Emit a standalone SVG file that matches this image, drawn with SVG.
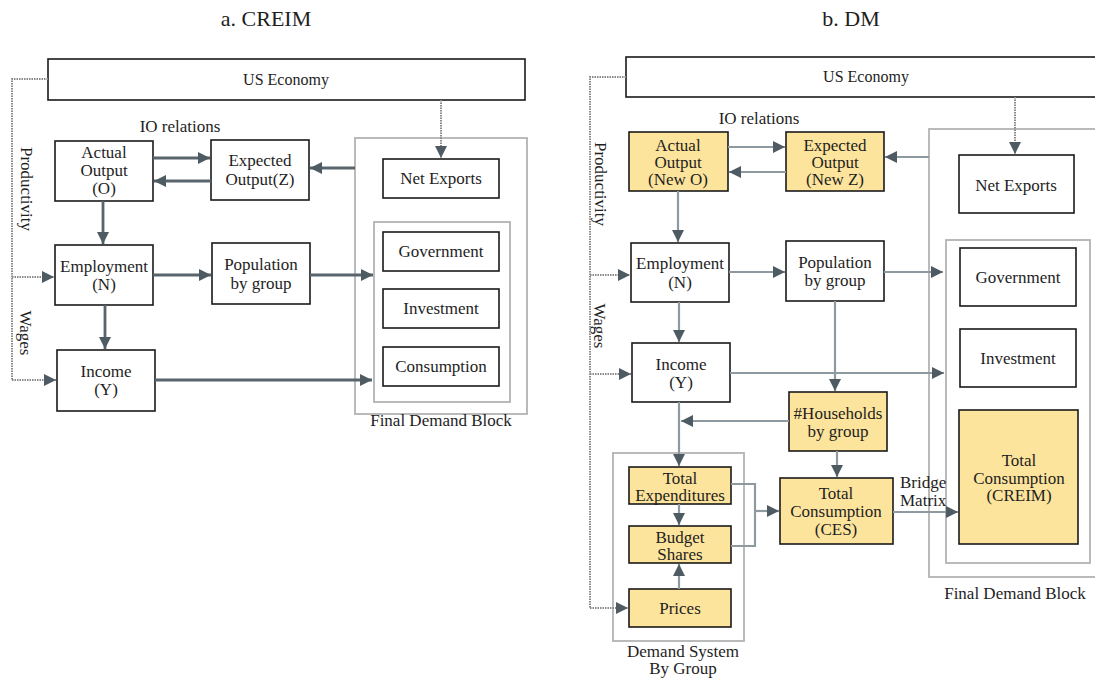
<svg xmlns="http://www.w3.org/2000/svg" width="1095" height="679" viewBox="0 0 1095 679" font-family="'Liberation Serif','Times New Roman',serif">
<style>
text{font-family:"Liberation Serif","Times New Roman",serif;fill:#1e1e1e;text-anchor:middle;dominant-baseline:central}
.t{font-size:22px}
.n{font-size:17px}
.s{font-size:16px}
.box{fill:#fff;stroke:#1a1a1a;stroke-width:1.6}
.ybox{fill:#fde49c;stroke:#1a1a1a;stroke-width:1.6}
.blk{fill:none;stroke:#b3b3b3;stroke-width:1.8}
.la{fill:none;stroke:#58656c;stroke-width:2.8}
.ra{fill:none;stroke:#8f9aa0;stroke-width:2.2}
.dot{fill:none;stroke:#8a8a8a;stroke-width:2;stroke-dasharray:1.5 1}
</style>
<defs>
<marker id="ah" markerUnits="userSpaceOnUse" markerWidth="13" markerHeight="12" refX="12" refY="6" orient="auto"><path d="M0,0 L12,6 L0,12 z" fill="#4f5b62"/></marker>
</defs>
<rect width="1095" height="679" fill="#fff"/>
<text class="t" x="266" y="18">a. CREIM</text>
<text class="t" x="851" y="18">b. DM</text>

<!-- LEFT -->
<g id="a-blocks">
<rect class="blk" x="355" y="138" width="172" height="276"/>
<rect class="blk" x="374" y="222" width="136" height="180"/>
<text class="n" x="441" y="420">Final Demand Block</text>
</g>
<g id="a-us"><rect class="box" x="48" y="59" width="477" height="41"/><text class="s" x="286" y="79">US Economy</text></g>
<g id="a-actual"><rect class="box" x="55" y="141" width="98" height="60"/><text class="n" x="104" y="152">Actual</text><text class="n" x="104" y="170">Output</text><text class="n" x="104" y="188">(O)</text></g>
<g id="a-expected"><rect class="box" x="211" y="140" width="98" height="60"/><text class="n" x="260" y="160">Expected</text><text class="n" x="260" y="179">Output(Z)</text></g>
<g id="a-netexports"><rect class="box" x="383" y="159" width="116" height="39"/><text class="n" x="441" y="178">Net Exports</text></g>
<g id="a-employment"><rect class="box" x="55" y="245" width="98" height="60"/><text class="n" x="104" y="266">Employment</text><text class="n" x="104" y="284">(N)</text></g>
<g id="a-population"><rect class="box" x="212" y="243" width="98" height="61"/><text class="n" x="261" y="264">Population</text><text class="n" x="261" y="283">by group</text></g>
<g id="a-income"><rect class="box" x="57" y="350" width="98" height="61"/><text class="n" x="106" y="371">Income</text><text class="n" x="106" y="389">(Y)</text></g>
<g id="a-gov"><rect class="box" x="383" y="232" width="116" height="39"/><text class="n" x="441" y="251">Government</text></g>
<g id="a-inv"><rect class="box" x="383" y="289" width="116" height="39"/><text class="n" x="441" y="308">Investment</text></g>
<g id="a-cons"><rect class="box" x="383" y="347" width="116" height="39"/><text class="n" x="441" y="366">Consumption</text></g>
<text class="n" x="180" y="126">IO relations</text>
<text class="n" x="26" y="189" transform="rotate(90 26 189)">Productivity</text>
<text class="n" x="25" y="333" transform="rotate(90 25 333)">Wages</text>

<g id="a-connectors">
<path class="dot" d="M48,79 H12 V380"/>
<path class="dot" d="M12,277 H54" marker-end="url(#ah)"/>
<path class="dot" d="M12,380 H56" marker-end="url(#ah)"/>
<path class="dot" d="M441,100 V158" marker-end="url(#ah)"/>
<path class="la" d="M153,158 H210" marker-end="url(#ah)"/>
<path class="la" d="M211,181 H154" marker-end="url(#ah)"/>
<path class="la" d="M355,168 H310" marker-end="url(#ah)"/>
<path class="la" d="M103,201 V244" marker-end="url(#ah)"/>
<path class="la" d="M153,275 H211" marker-end="url(#ah)"/>
<path class="la" d="M310,275 H373" marker-end="url(#ah)"/>
<path class="la" d="M105,305 V349" marker-end="url(#ah)"/>
<path class="la" d="M155,380 H372" marker-end="url(#ah)"/>
</g>

<!-- RIGHT -->
<g id="b-blocks">
<rect class="blk" x="929" y="129" width="175" height="448"/>
<rect class="blk" x="946" y="240" width="144" height="323"/>
<text class="n" x="1015" y="593">Final Demand Block</text>
<rect class="blk" x="613" y="453" width="131" height="188"/>
<text class="n" x="683" y="651">Demand System</text>
<text class="n" x="683" y="668">By Group</text>
</g>
<g id="b-us"><rect class="box" x="626" y="57" width="480" height="40"/><text class="s" x="866" y="76">US Economy</text></g>
<g id="b-actual"><rect class="ybox" x="629" y="132" width="99" height="59"/><text class="n" x="678" y="145">Actual</text><text class="n" x="678" y="162">Output</text><text class="n" x="678" y="179">(New O)</text></g>
<g id="b-expected"><rect class="ybox" x="786" y="132" width="98" height="59"/><text class="n" x="835" y="145">Expected</text><text class="n" x="835" y="162">Output</text><text class="n" x="835" y="179">(New Z)</text></g>
<g id="b-netexports"><rect class="box" x="959" y="155" width="115" height="58"/><text class="n" x="1016" y="185">Net Exports</text></g>
<g id="b-employment"><rect class="box" x="631" y="243" width="98" height="59"/><text class="n" x="680" y="263">Employment</text><text class="n" x="680" y="282">(N)</text></g>
<g id="b-population"><rect class="box" x="786" y="241" width="98" height="60"/><text class="n" x="835" y="262">Population</text><text class="n" x="835" y="280">by group</text></g>
<g id="b-income"><rect class="box" x="632" y="343" width="98" height="59"/><text class="n" x="681" y="364">Income</text><text class="n" x="681" y="382">(Y)</text></g>
<g id="b-gov"><rect class="box" x="960" y="248" width="116" height="58"/><text class="n" x="1018" y="277">Government</text></g>
<g id="b-inv"><rect class="box" x="960" y="329" width="116" height="58"/><text class="n" x="1018" y="358">Investment</text></g>
<g id="b-creim"><rect class="ybox" x="959" y="410" width="119" height="134"/><text class="n" x="1019" y="460">Total</text><text class="n" x="1019" y="478">Consumption</text><text class="n" x="1019" y="495">(CREIM)</text></g>
<g id="b-households"><rect class="ybox" x="789" y="392" width="98" height="59"/><text class="n" x="838" y="413">#Households</text><text class="n" x="838" y="431">by group</text></g>
<g id="b-totexp"><rect class="ybox" x="629" y="467" width="102" height="37"/><text class="n" x="680" y="478">Total</text><text class="n" x="680" y="495">Expenditures</text></g>
<g id="b-budget"><rect class="ybox" x="629" y="526" width="102" height="37"/><text class="n" x="680" y="537">Budget</text><text class="n" x="680" y="554">Shares</text></g>
<g id="b-prices"><rect class="ybox" x="629" y="589" width="102" height="38"/><text class="n" x="680" y="608">Prices</text></g>
<g id="b-ces"><rect class="ybox" x="780" y="478" width="113" height="66"/><text class="n" x="836" y="493">Total</text><text class="n" x="836" y="511">Consumption</text><text class="n" x="836" y="529">(CES)</text></g>
<text class="n" x="759" y="118">IO relations</text>
<text class="n" x="900" y="482" style="text-anchor:start">Bridge</text>
<text class="n" x="900" y="500" style="text-anchor:start">Matrix</text>
<text class="n" x="600" y="184" transform="rotate(90 600 184)">Productivity</text>
<text class="n" x="599" y="326" transform="rotate(90 599 326)">Wages</text>

<g id="b-connectors">
<path class="dot" d="M626,77 H590 V608"/>
<path class="dot" d="M590,275 H630" marker-end="url(#ah)"/>
<path class="dot" d="M590,374 H631" marker-end="url(#ah)"/>
<path class="dot" d="M590,608 H628" marker-end="url(#ah)"/>
<path class="dot" d="M1015,97 V154" marker-end="url(#ah)"/>
<path class="ra" d="M728,147 H785" marker-end="url(#ah)"/>
<path class="ra" d="M786,172 H729" marker-end="url(#ah)"/>
<path class="ra" d="M929,157 H885" marker-end="url(#ah)"/>
<path class="ra" d="M678,191 V242" marker-end="url(#ah)"/>
<path class="ra" d="M729,272 H785" marker-end="url(#ah)"/>
<path class="ra" d="M884,272 H943" marker-end="url(#ah)"/>
<path class="ra" d="M679,302 V342" marker-end="url(#ah)"/>
<path class="ra" d="M730,373 H944" marker-end="url(#ah)"/>
<path class="ra" d="M835,301 V391" marker-end="url(#ah)"/>
<path class="ra" d="M789,421 H681" marker-end="url(#ah)"/>
<path class="ra" d="M679,402 V466" marker-end="url(#ah)"/>
<path class="ra" d="M679,504 V525" marker-end="url(#ah)"/>
<path class="ra" d="M679,589 V564" marker-end="url(#ah)"/>
<path class="ra" d="M731,484 H755 V546 H731"/>
<path class="ra" d="M755,511 H779" marker-end="url(#ah)"/>
<path class="ra" d="M837,451 V477" marker-end="url(#ah)"/>
<path class="ra" d="M893,512 H958" marker-end="url(#ah)"/>
</g>
</svg>
